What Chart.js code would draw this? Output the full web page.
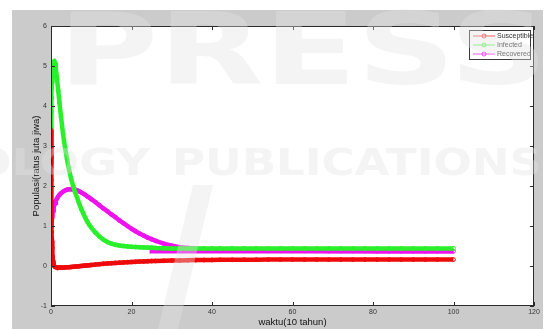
<!DOCTYPE html>
<html>
<head>
<meta charset="utf-8">
<script src="https://cdn.jsdelivr.net/npm/chart.js@4.4.1/dist/chart.umd.min.js"></script>
<style>
  html, body { margin: 0; padding: 0; background: #ffffff; overflow: hidden; }
  #wrap { width: 554px; height: 329px; }
  canvas { display: block; }
</style>
</head>
<body>
<div id="wrap"><canvas id="sir" width="554" height="329"></canvas></div>
<script>
// Solver output times (10-year units) and the three compartments (hundred millions of people)
const waktu = [
  0, 0.03, 0.06, 0.1, 0.15, 0.2, 0.25, 0.3, 0.4, 0.5,
  0.6, 0.7, 0.8, 1.0, 1.2, 1.5, 1.8, 2.1, 2.5, 3,
  3.5, 4, 4.5, 5, 5.5, 6, 6.5, 7, 7.5, 8,
  8.5, 9, 9.5, 10, 11, 12, 13, 14, 15, 16,
  17, 18, 19, 20, 21, 22, 23, 24, 25, 26,
  28, 30, 32, 34, 36, 38, 40, 42, 45, 48,
  51, 54, 57, 60, 63, 66, 69, 72, 75, 78,
  81, 84, 87, 90, 93, 96, 100
];
const susceptible = [
  3.40, 2.70, 2.15, 1.60, 1.15, 0.85, 0.62, 0.45, 0.25, 0.13,
  0.06, 0.02, 0.00, -0.02, -0.03, -0.035, -0.04, -0.04, -0.04, -0.04,
  -0.035, -0.03, -0.03, -0.025, -0.02, -0.015, -0.01, -0.005, 0.0, 0.005,
  0.01, 0.015, 0.02, 0.025, 0.035, 0.045, 0.055, 0.063, 0.07, 0.077,
  0.084, 0.09, 0.096, 0.10, 0.105, 0.11, 0.114, 0.118, 0.122, 0.125,
  0.131, 0.136, 0.14, 0.144, 0.147, 0.15, 0.152, 0.154, 0.156, 0.158,
  0.159, 0.16, 0.16, 0.16, 0.16, 0.16, 0.16, 0.16, 0.16, 0.16,
  0.16, 0.16, 0.16, 0.16, 0.16, 0.16, 0.16
];
const infected = [
  2.60, 3.05, 3.45, 3.85, 4.20, 4.45, 4.62, 4.75, 4.92, 5.02,
  5.08, 5.11, 5.12, 5.08, 4.95, 4.68, 4.38, 4.08, 3.72, 3.30,
  2.95, 2.66, 2.40, 2.18, 2.00, 1.84, 1.70, 1.56, 1.43, 1.32,
  1.21, 1.11, 1.03, 0.96, 0.84, 0.74, 0.66, 0.60, 0.56, 0.53,
  0.51, 0.50, 0.49, 0.48, 0.475, 0.47, 0.465, 0.46, 0.455, 0.45,
  0.445, 0.44, 0.44, 0.44, 0.44, 0.44, 0.44, 0.44, 0.44, 0.44,
  0.44, 0.44, 0.44, 0.44, 0.44, 0.44, 0.44, 0.44, 0.44, 0.44,
  0.44, 0.44, 0.44, 0.44, 0.44, 0.44, 0.44
];
const recovered = [
  1.00, 1.03, 1.06, 1.10, 1.15, 1.20, 1.24, 1.28, 1.34, 1.39,
  1.44, 1.48, 1.52, 1.58, 1.63, 1.69, 1.74, 1.78, 1.82, 1.86,
  1.89, 1.91, 1.92, 1.92, 1.92, 1.91, 1.89, 1.87, 1.84, 1.81,
  1.78, 1.74, 1.71, 1.67, 1.60, 1.52, 1.44, 1.37, 1.29, 1.22,
  1.14, 1.07, 1.00, 0.93, 0.87, 0.81, 0.76, 0.71, 0.67, 0.63,
  0.56, 0.51, 0.47, 0.45, 0.43, 0.42, 0.41, 0.40, 0.395, 0.39,
  0.385, 0.38, 0.38, 0.38, 0.38, 0.38, 0.375, 0.375, 0.375, 0.375,
  0.37, 0.37, 0.37, 0.37, 0.37, 0.37, 0.37
];
// Equilibrium level of the recovered class, drawn from t = 24.5 onward
const waktuSetimbang = [24.5, 30, 40, 50, 60, 70, 80, 90, 100];
const recoveredSetimbang = [0.37, 0.37, 0.37, 0.37, 0.37, 0.37, 0.37, 0.37, 0.37];

const seriesNames = ['Susceptible', 'Infected', 'Recovered'];
const seriesColors = ['#ee0a0a', '#2af02a', '#ee12ee'];
const xTicks = [0, 20, 40, 60, 80, 100, 120];
const yTicks = [-1, 0, 1, 2, 3, 4, 5, 6];

const toPoints = (xs, ys) => xs.map((x, i) => ({ x: x, y: ys[i] }));

function seriesDataset(label, xs, ys, color, withMarkers) {
  return {
    label: label,
    data: toPoints(xs, ys),
    borderColor: color,
    backgroundColor: color,
    borderWidth: 4.5,
    pointStyle: 'circle',
    pointRadius: withMarkers ? 1.9 : 0,
    pointBorderWidth: 1,
    pointBorderColor: color,
    pointBackgroundColor: 'rgba(0,0,0,0)',
    pointHoverRadius: 0,
    tension: 0,
    fill: false
  };
}

const datasets = [
  seriesDataset(seriesNames[0], waktu, susceptible, seriesColors[0], true),
  seriesDataset(seriesNames[1], waktu, infected, seriesColors[1], true),
  seriesDataset(seriesNames[2], waktu, recovered, seriesColors[2], true),
  Object.assign(seriesDataset('', waktuSetimbang, recoveredSetimbang, seriesColors[2], false), { inLegend: false })
];

// Figure frame: white page, grey figure panel, white axes area
const figureBackground = {
  id: 'figureBackground',
  beforeDraw(chart) {
    const ctx = chart.ctx;
    const a = chart.chartArea;
    ctx.save();
    ctx.fillStyle = '#ffffff';
    ctx.fillRect(0, 0, chart.width, chart.height);
    ctx.fillStyle = '#cbcbcb';
    ctx.fillRect(12, 10, 531, 319);
    ctx.fillStyle = '#ffffff';
    ctx.fillRect(a.left, a.top, a.right - a.left, a.bottom - a.top);
    ctx.restore();
  }
};

// Boxed axes with inward tick marks on all four sides
const boxedAxes = {
  id: 'boxedAxes',
  afterDatasetsDraw(chart) {
    const ctx = chart.ctx;
    const a = chart.chartArea;
    const xs = chart.scales.x, ys = chart.scales.y;
    const len = 4;
    ctx.save();
    ctx.strokeStyle = '#2b2b2b';
    ctx.lineWidth = 1;
    ctx.strokeRect(Math.round(a.left) + 0.5, Math.round(a.top) + 0.5,
                   Math.round(a.right - a.left) - 1, Math.round(a.bottom - a.top) - 1);
    ctx.beginPath();
    xTicks.forEach(v => {
      const px = Math.round(xs.getPixelForValue(v)) + 0.5;
      ctx.moveTo(px, a.bottom); ctx.lineTo(px, a.bottom - len);
      ctx.moveTo(px, a.top); ctx.lineTo(px, a.top + len);
    });
    yTicks.forEach(v => {
      const py = Math.round(ys.getPixelForValue(v)) + 0.5;
      ctx.moveTo(a.left, py); ctx.lineTo(a.left + len, py);
      ctx.moveTo(a.right, py); ctx.lineTo(a.right - len, py);
    });
    ctx.stroke();
    ctx.restore();
  }
};

// Legend box in the upper-right corner of the axes
const cornerLegend = {
  id: 'cornerLegend',
  afterDraw(chart) {
    const ctx = chart.ctx;
    const a = chart.chartArea;
    const bx = a.right - 65, by = a.top + 4, bw = 62, bh = 30;
    ctx.save();
    ctx.fillStyle = '#ffffff';
    ctx.fillRect(bx, by, bw, bh);
    ctx.strokeStyle = '#3a3a3a';
    ctx.lineWidth = 1;
    ctx.strokeRect(bx + 0.5, by + 0.5, bw - 1, bh - 1);
    ctx.font = '7px "Liberation Sans", Arial, sans-serif';
    ctx.textBaseline = 'middle';
    chart.data.datasets.filter(d => d.inLegend !== false).forEach((d, i) => {
      const y = by + 6 + i * 9;
      ctx.strokeStyle = d.borderColor;
      ctx.globalAlpha = 0.7;
      ctx.lineWidth = 1;
      ctx.beginPath();
      ctx.moveTo(bx + 4, y); ctx.lineTo(bx + 26, y);
      ctx.stroke();
      ctx.beginPath();
      ctx.arc(bx + 15, y, 2, 0, Math.PI * 2);
      ctx.stroke();
      ctx.globalAlpha = 1;
      ctx.fillStyle = '#333333';
      ctx.fillText(d.label, bx + 28, y + 0.5);
    });
    ctx.restore();
  }
};

// Publisher watermark printed faintly over the figure
const watermark = {
  id: 'watermark',
  afterDraw(chart) {
    const ctx = chart.ctx;
    ctx.save();
    ctx.fillStyle = 'rgba(226,226,226,0.38)';
    ctx.textBaseline = 'alphabetic';
    function fitText(text, x0, x1, baseline, size) {
      ctx.font = 'bold ' + size + 'px "DejaVu Sans", sans-serif';
      const w = ctx.measureText(text).width;
      ctx.save();
      ctx.translate(x0, baseline);
      ctx.scale((x1 - x0) / w, 1);
      ctx.fillText(text, 0, 0);
      ctx.restore();
    }
    fitText('PRESS', 58, 548, 84, 100);
    fitText('OLOGY', -28, 150, 175, 37);
    fitText('PUBLICATIONS', 172, 542, 175, 37);
    ctx.beginPath();
    ctx.moveTo(193, 185); ctx.lineTo(213, 185);
    ctx.lineTo(178, 329); ctx.lineTo(158, 329);
    ctx.closePath();
    ctx.fill();
    ctx.restore();
  }
};

const tickFont = { family: '"Liberation Sans", Arial, sans-serif', size: 7 };
const titleFont = { family: '"Liberation Sans", Arial, sans-serif', size: 9.5 };

new Chart(document.getElementById('sir'), {
  type: 'line',
  data: { datasets: datasets },
  options: {
    responsive: false,
    animation: false,
    devicePixelRatio: 1,
    events: [],
    layout: { padding: { left: 0, top: 26, right: 20, bottom: 0 } },
    plugins: { legend: { display: false }, tooltip: { enabled: false } },
    scales: {
      x: {
        type: 'linear',
        min: 0, max: 120,
        afterBuildTicks: s => { s.ticks = xTicks.map(v => ({ value: v })); },
        afterFit: s => { s.height = 23; },
        grid: { display: false, drawTicks: false },
        border: { display: false },
        ticks: { font: tickFont, color: '#333333', padding: 2, maxRotation: 0 },
        title: { display: true, text: 'waktu(10 tahun)', font: titleFont, color: '#111111',
                 padding: { top: 0, bottom: 1 } }
      },
      y: {
        type: 'linear',
        min: -1, max: 6,
        afterBuildTicks: s => { s.ticks = yTicks.map(v => ({ value: v })); },
        afterFit: s => { s.width = 51; },
        grid: { display: false, drawTicks: false },
        border: { display: false },
        ticks: { font: tickFont, color: '#333333', padding: 4 },
        title: { display: true, text: 'Populasi(ratus juta jiwa)', font: titleFont, color: '#111111',
                 padding: { top: 31, bottom: 0 } }
      }
    }
  },
  plugins: [figureBackground, boxedAxes, cornerLegend, watermark]
});
</script>
</body>
</html>
